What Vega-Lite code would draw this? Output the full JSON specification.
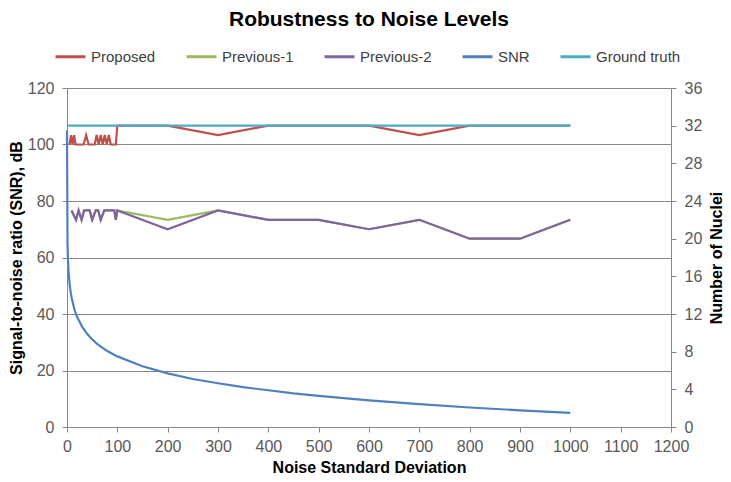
{
  "$schema": "https://vega.github.io/schema/vega-lite/v6.json",
  "width": 604,
  "height": 339,
  "autosize": {"type": "none"},
  "padding": {"left": 67, "top": 88, "right": 60, "bottom": 55},
  "background": "white",
  "title": {"text": "Robustness to Noise Levels", "font": "Liberation Sans", "fontSize": 21, "fontWeight": "bold", "color": "#000000", "anchor": "middle", "offset": 10},
  "config": {
    "view": {"stroke": null},
    "axis": {
      "labelFont": "Liberation Sans", "labelFontSize": 16, "labelColor": "#595959", "labelFlush": false,
      "titleFont": "Liberation Sans", "titleFontSize": 16, "titleFontWeight": "bold", "titleColor": "#000000",
      "domainColor": "#868686", "tickColor": "#868686", "tickSize": 5, "labelPadding": 8,
      "gridColor": "#868686", "gridWidth": 1
    },
    "legend": {
      "labelFont": "Liberation Sans", "labelFontSize": 15, "labelColor": "#404040",
      "symbolType": "stroke", "symbolSize": 900, "symbolStrokeWidth": 3,
      "labelOffset": 4, "columnPadding": 24, "padding": 0
    }
  },
  "datasets": {
    "nuc": [
      {"x": 5, "series": "Proposed", "n": 30}, {"x": 8, "series": "Proposed", "n": 31}, {"x": 11, "series": "Proposed", "n": 30},
      {"x": 14, "series": "Proposed", "n": 31}, {"x": 17, "series": "Proposed", "n": 30}, {"x": 33, "series": "Proposed", "n": 30},
      {"x": 38, "series": "Proposed", "n": 31}, {"x": 43, "series": "Proposed", "n": 30}, {"x": 55, "series": "Proposed", "n": 30},
      {"x": 59, "series": "Proposed", "n": 31}, {"x": 63, "series": "Proposed", "n": 30}, {"x": 67, "series": "Proposed", "n": 31},
      {"x": 71, "series": "Proposed", "n": 30}, {"x": 75, "series": "Proposed", "n": 31}, {"x": 79, "series": "Proposed", "n": 30},
      {"x": 83, "series": "Proposed", "n": 31}, {"x": 87, "series": "Proposed", "n": 30}, {"x": 97, "series": "Proposed", "n": 30},
      {"x": 100, "series": "Proposed", "n": 32}, {"x": 200, "series": "Proposed", "n": 32}, {"x": 300, "series": "Proposed", "n": 31},
      {"x": 400, "series": "Proposed", "n": 32}, {"x": 500, "series": "Proposed", "n": 32}, {"x": 600, "series": "Proposed", "n": 32},
      {"x": 700, "series": "Proposed", "n": 31}, {"x": 800, "series": "Proposed", "n": 32}, {"x": 900, "series": "Proposed", "n": 32},
      {"x": 1000, "series": "Proposed", "n": 32},
      {"x": 9, "series": "Previous-1", "n": 23}, {"x": 18, "series": "Previous-1", "n": 22}, {"x": 23, "series": "Previous-1", "n": 23},
      {"x": 29, "series": "Previous-1", "n": 22}, {"x": 34, "series": "Previous-1", "n": 23}, {"x": 45, "series": "Previous-1", "n": 23},
      {"x": 50, "series": "Previous-1", "n": 22}, {"x": 57, "series": "Previous-1", "n": 23}, {"x": 62, "series": "Previous-1", "n": 23},
      {"x": 67, "series": "Previous-1", "n": 22}, {"x": 74, "series": "Previous-1", "n": 23}, {"x": 94, "series": "Previous-1", "n": 23},
      {"x": 97, "series": "Previous-1", "n": 22}, {"x": 100, "series": "Previous-1", "n": 23}, {"x": 200, "series": "Previous-1", "n": 22},
      {"x": 300, "series": "Previous-1", "n": 23}, {"x": 400, "series": "Previous-1", "n": 22}, {"x": 500, "series": "Previous-1", "n": 22},
      {"x": 600, "series": "Previous-1", "n": 21}, {"x": 700, "series": "Previous-1", "n": 22}, {"x": 800, "series": "Previous-1", "n": 20},
      {"x": 900, "series": "Previous-1", "n": 20}, {"x": 1000, "series": "Previous-1", "n": 22},
      {"x": 9, "series": "Previous-2", "n": 23}, {"x": 18, "series": "Previous-2", "n": 22}, {"x": 23, "series": "Previous-2", "n": 23},
      {"x": 29, "series": "Previous-2", "n": 22}, {"x": 34, "series": "Previous-2", "n": 23}, {"x": 45, "series": "Previous-2", "n": 23},
      {"x": 50, "series": "Previous-2", "n": 22}, {"x": 57, "series": "Previous-2", "n": 23}, {"x": 62, "series": "Previous-2", "n": 23},
      {"x": 67, "series": "Previous-2", "n": 22}, {"x": 74, "series": "Previous-2", "n": 23}, {"x": 94, "series": "Previous-2", "n": 23},
      {"x": 97, "series": "Previous-2", "n": 22}, {"x": 100, "series": "Previous-2", "n": 23}, {"x": 200, "series": "Previous-2", "n": 21},
      {"x": 300, "series": "Previous-2", "n": 23}, {"x": 400, "series": "Previous-2", "n": 22}, {"x": 500, "series": "Previous-2", "n": 22},
      {"x": 600, "series": "Previous-2", "n": 21}, {"x": 700, "series": "Previous-2", "n": 22}, {"x": 800, "series": "Previous-2", "n": 20},
      {"x": 900, "series": "Previous-2", "n": 20}, {"x": 1000, "series": "Previous-2", "n": 22},
      {"x": 0, "series": "Ground truth", "n": 32}, {"x": 1000, "series": "Ground truth", "n": 32}
    ],
    "snr": [
      {"x": 0.01, "series": "SNR", "snr": 105}, {"x": 1, "series": "SNR", "snr": 65}, {"x": 2, "series": "SNR", "snr": 59},
      {"x": 3, "series": "SNR", "snr": 55.5}, {"x": 5, "series": "SNR", "snr": 51}, {"x": 7, "series": "SNR", "snr": 48.1},
      {"x": 10, "series": "SNR", "snr": 45}, {"x": 15, "series": "SNR", "snr": 41.5}, {"x": 20, "series": "SNR", "snr": 39},
      {"x": 30, "series": "SNR", "snr": 35.5}, {"x": 40, "series": "SNR", "snr": 33}, {"x": 50, "series": "SNR", "snr": 31},
      {"x": 60, "series": "SNR", "snr": 29.4}, {"x": 70, "series": "SNR", "snr": 28.1}, {"x": 80, "series": "SNR", "snr": 26.9},
      {"x": 90, "series": "SNR", "snr": 25.9}, {"x": 100, "series": "SNR", "snr": 25}, {"x": 150, "series": "SNR", "snr": 21.5},
      {"x": 200, "series": "SNR", "snr": 19}, {"x": 250, "series": "SNR", "snr": 17}, {"x": 300, "series": "SNR", "snr": 15.5},
      {"x": 350, "series": "SNR", "snr": 14.1}, {"x": 400, "series": "SNR", "snr": 13}, {"x": 450, "series": "SNR", "snr": 11.9},
      {"x": 500, "series": "SNR", "snr": 11}, {"x": 600, "series": "SNR", "snr": 9.4}, {"x": 700, "series": "SNR", "snr": 8.1},
      {"x": 800, "series": "SNR", "snr": 6.9}, {"x": 900, "series": "SNR", "snr": 5.9}, {"x": 1000, "series": "SNR", "snr": 5}
    ]
  },
  "layer": [
    {
      "data": {"name": "nuc"},
      "transform": [{"filter": "datum.series === 'Proposed'"}],
      "mark": {"type": "line", "strokeWidth": 2.2},
      "encoding": {
        "x": {"field": "x", "type": "quantitative", "scale": {"domain": [0, 1200], "nice": false},
              "axis": {"values": [0,100,200,300,400,500,600,700,800,900,1000,1100,1200], "format": "d", "labelOverlap": false, "labelFlush": false, "labelPadding": 6, "grid": false, "title": "Noise Standard Deviation", "titlePadding": 5}},
        "y": {"field": "n", "type": "quantitative", "scale": {"domain": [0, 36], "nice": false},
              "axis": {"orient": "right", "values": [0,4,8,12,16,20,24,28,32,36], "labelOverlap": false, "labelFlush": false, "grid": false, "title": "Number of Nuclei", "titleAngle": 270, "titleBaseline": "top", "titlePadding": 7}},
        "color": {"field": "series", "type": "nominal",
                  "scale": {"domain": ["Proposed", "Previous-1", "Previous-2", "SNR", "Ground truth"], "range": ["#C0504D", "#9BBB59", "#8064A2", "#4F81BD", "#4BACC6"]},
                  "legend": {"title": null, "orient": "none", "direction": "horizontal", "legendX": -13, "legendY": -48}}
      }
    },
    {
      "data": {"name": "nuc"},
      "transform": [{"filter": "datum.series === 'Previous-1'"}],
      "mark": {"type": "line", "strokeWidth": 2.2},
      "encoding": {
        "x": {"field": "x", "type": "quantitative", "scale": {"domain": [0, 1200], "nice": false}},
        "y": {"field": "n", "type": "quantitative", "scale": {"domain": [0, 36], "nice": false}, "axis": null},
        "color": {"field": "series", "type": "nominal"}
      }
    },
    {
      "data": {"name": "nuc"},
      "transform": [{"filter": "datum.series === 'Previous-2'"}],
      "mark": {"type": "line", "strokeWidth": 2.2},
      "encoding": {
        "x": {"field": "x", "type": "quantitative", "scale": {"domain": [0, 1200], "nice": false}},
        "y": {"field": "n", "type": "quantitative", "scale": {"domain": [0, 36], "nice": false}, "axis": null},
        "color": {"field": "series", "type": "nominal"}
      }
    },
    {
      "data": {"name": "snr"},
      "mark": {"type": "line", "strokeWidth": 2.2},
      "encoding": {
        "x": {"field": "x", "type": "quantitative", "scale": {"domain": [0, 1200], "nice": false}},
        "y": {"field": "snr", "type": "quantitative", "scale": {"domain": [0, 120], "nice": false},
              "axis": {"orient": "left", "values": [0,20,40,60,80,100,120], "labelOverlap": false, "labelFlush": false, "grid": true, "title": "Signal-to-noise ratio (SNR), dB", "titlePadding": 3}},
        "color": {"field": "series", "type": "nominal"}
      }
    },
    {
      "data": {"name": "nuc"},
      "transform": [{"filter": "datum.series === 'Ground truth'"}],
      "mark": {"type": "line", "strokeWidth": 2.2},
      "encoding": {
        "x": {"field": "x", "type": "quantitative", "scale": {"domain": [0, 1200], "nice": false}},
        "y": {"field": "n", "type": "quantitative", "scale": {"domain": [0, 36], "nice": false}, "axis": null},
        "color": {"field": "series", "type": "nominal"}
      }
    }
  ],
  "resolve": {"scale": {"y": "independent"}}
}
